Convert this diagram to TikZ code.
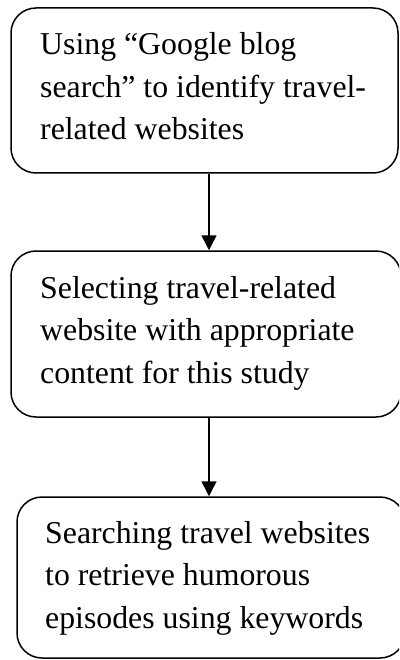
\documentclass[tikz,border=0pt]{standalone}
\usepackage{fontspec}
\setmainfont{Liberation Serif}
\usetikzlibrary{arrows.meta}
\begin{document}
\begin{tikzpicture}[x=1pt,y=-1pt,
  stepbox/.style={draw, line width=1.5pt, rounded corners=25pt, inner sep=0pt},
  steptext/.style={anchor=base west, align=left, inner sep=0pt,
    font=\fontsize{31.8}{42.5}\selectfont},
  flow/.style={line width=1.5pt, -{Triangle[width=15pt,length=15pt]}}]
\useasboundingbox (0,0) rectangle (399,660);
\clip (0,0) rectangle (399,660);
% the three steps
\node[stepbox, minimum width=387pt, minimum height=165pt] (b1) at (204.5,90.5) {};
\node[stepbox, minimum width=390pt, minimum height=166pt] (b2) at (206,334) {};
\node[stepbox, minimum width=388pt, minimum height=161pt] (b3) at (211,577.5) {};
% step texts (anchored at the baseline of their last line)
\node[steptext] (t1) at (40,140) {Using “Google blog\\search” to identify travel-\\related websites};
\node[steptext] (t2) at (40,383) {Selecting travel-related\\website with appropriate\\content for this study};
\node[steptext] (t3) at (45,628) {Searching travel websites\\to retrieve humorous\\episodes using keywords};
% connectors
\draw[flow] ([xshift=4.5pt]b1.south) -- ([xshift=4.5pt]b1.south |- b2.north);
\draw[flow] ([xshift=3pt]b2.south) -- ([xshift=3pt]b2.south |- b3.north);
\end{tikzpicture}
\end{document}
